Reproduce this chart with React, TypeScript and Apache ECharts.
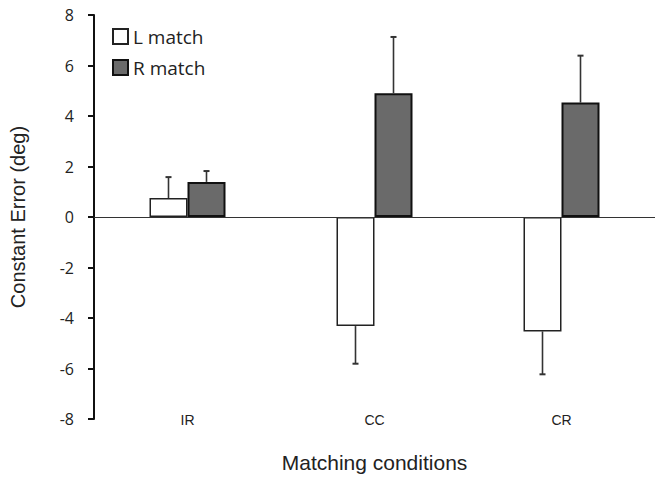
import React, { useEffect, useRef } from "react";
import * as echarts from "echarts";

const categories = ["IR", "CC", "CR"];
const lMatch = [0.75, -4.32, -4.53];
const lErr = [0.83, 1.49, 1.7];
const rMatch = [1.39, 4.9, 4.53];
const rErr = [0.43, 2.23, 1.86];
const yTicks = { min: -8, max: 8, interval: 2 };

const BAR_W = 38;

function errData(vals: number[], errs: number[], side: number) {
  return vals.map((v, i) => [i, v, errs[i], side]);
}

export default function App() {
  const ref = useRef<HTMLDivElement>(null);
  useEffect(() => {
    if (!ref.current) return;
    const chart = echarts.init(ref.current, null, { renderer: "svg" });
    const renderErr = (params: any, api: any) => {
      const idx = api.value(0);
      const v = api.value(1);
      const e = api.value(2);
      const side = api.value(3);
      const end = v >= 0 ? v + e : v - e;
      const p0 = api.coord([idx, v]);
      const p1 = api.coord([idx, end]);
      const x = p0[0] + side * (BAR_W / 2);
      const style = { stroke: "#333", lineWidth: 1.6 };
      return {
        type: "group",
        children: [
          { type: "line", shape: { x1: x, y1: p0[1], x2: x, y2: p1[1] }, style },
          { type: "line", shape: { x1: x - 3, y1: p1[1], x2: x + 3, y2: p1[1] }, style: { stroke: "#333", lineWidth: 2 } },
        ],
      };
    };
    chart.setOption({
      animation: false,
      backgroundColor: "#fff",
      grid: { left: 91, right: 9, top: 15, bottom: 52 },
      legend: {
        data: ["L match", "R match"],
        orient: "vertical",
        left: 107,
        top: 22,
        icon: "rect",
        itemWidth: 15,
        itemHeight: 15,
        itemGap: 12,
        textStyle: { fontFamily: "Open Sans", fontSize: 19, color: "#222" },
      },
      xAxis: {
        type: "category",
        data: categories,
        axisLine: { show: false },
        axisTick: { show: false },
        axisLabel: { fontFamily: "Liberation Sans", fontSize: 14, color: "#222", margin: -6 },
        name: "Matching conditions",
        nameLocation: "middle",
        nameGap: 33,
        nameTextStyle: { fontFamily: "Liberation Sans", fontSize: 21, color: "#222" },
      },
      yAxis: {
        type: "value",
        min: yTicks.min,
        max: yTicks.max,
        interval: yTicks.interval,
        axisLine: { show: true, onZero: false, lineStyle: { color: "#111", width: 2 } },
        axisTick: { show: true, length: 6, lineStyle: { color: "#111", width: 2 } },
        splitLine: { show: false },
        axisLabel: { fontFamily: "Open Sans", fontSize: 16, color: "#222", margin: 20 },
        name: "Constant Error (deg)",
        nameLocation: "middle",
        nameGap: 66,
        nameTextStyle: { fontFamily: "Liberation Sans", fontSize: 20, color: "#222" },
      },
      series: [
        {
          name: "L match",
          type: "bar",
          data: lMatch,
          barWidth: BAR_W,
          barGap: "0%",
          itemStyle: { color: "#ffffff", borderColor: "#222", borderWidth: 1.5 },
          markLine: {
            silent: true,
            symbol: "none",
            label: { show: false },
            lineStyle: { color: "#333", width: 1.2, type: "solid" },
            data: [{ yAxis: 0 }],
          },
          z: 2,
        },
        {
          name: "R match",
          type: "bar",
          data: rMatch,
          barWidth: BAR_W,
          barGap: "0%",
          itemStyle: { color: "#6a6a6a", borderColor: "#111", borderWidth: 2 },
          z: 2,
        },
        {
          type: "custom",
          renderItem: renderErr,
          data: errData(lMatch, lErr, -1),
          z: 3,
          silent: true,
        },
        {
          type: "custom",
          renderItem: renderErr,
          data: errData(rMatch, rErr, 1),
          z: 3,
          silent: true,
        },
      ],
    });
    return () => chart.dispose();
  }, []);
  return <div ref={ref} style={{ width: 664, height: 478, position: "absolute", left: 0, top: 0 }} />;
}
